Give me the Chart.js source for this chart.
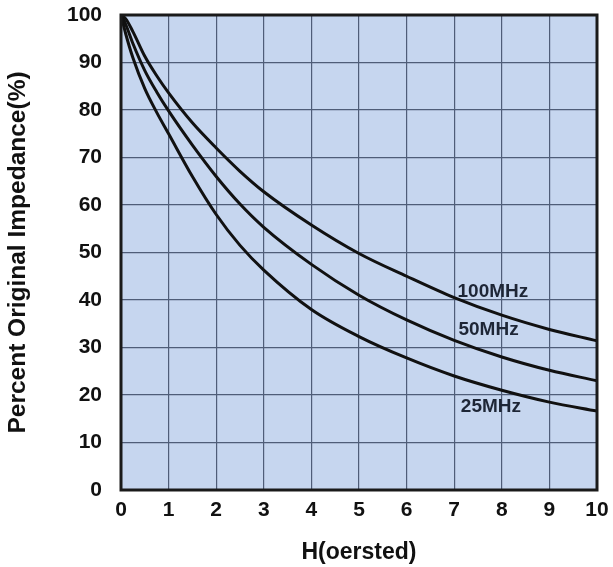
<!DOCTYPE html>
<html>
<head>
<meta charset="utf-8">
<script src="https://cdn.jsdelivr.net/npm/chart.js@4.4.1/dist/chart.umd.min.js"></script>
<style>
  html, body { margin: 0; padding: 0; background: #ffffff; }
  #wrap { width: 613px; height: 567px; }
</style>
</head>
<body>
<div id="wrap"><canvas id="c" width="613" height="567"></canvas></div>
<script>
// H (oersted) sample positions
const hValues = [0, 0.1, 0.25, 0.5, 0.75, 1, 1.5, 2, 2.5, 3, 4, 5, 6, 7, 8, 9, 10];
// Percent original impedance for each frequency
const imp100MHz = [100, 99.2, 96.5, 91.3, 87.2, 83.6, 77.3, 72, 67.1, 62.8, 55.8, 49.8, 45, 40.5, 36.8, 33.8, 31.4];
const imp50MHz  = [100, 98, 94, 88.3, 83.8, 79.8, 72.6, 66, 60.2, 55.3, 47.5, 41, 35.8, 31.5, 28, 25.2, 23];
const imp25MHz  = [100, 96, 91, 84.5, 79.5, 75, 66, 58, 51.5, 46.3, 38, 32.3, 27.8, 24, 21, 18.5, 16.6];
const seriesNames = ['100MHz', '50MHz', '25MHz'];
const xTicks = [0, 1, 2, 3, 4, 5, 6, 7, 8, 9, 10];
const yTicks = [0, 10, 20, 30, 40, 50, 60, 70, 80, 90, 100];

// curve label anchor (data coords)
const labelAnchors = [
  { x: 7.07, y: 41.7 },
  { x: 7.09, y: 33.7 },
  { x: 7.14, y: 17.5 }
];

const toPts = arr => hValues.map((h, i) => ({ x: h, y: arr[i] }));
const allSeries = [imp100MHz, imp50MHz, imp25MHz];

const FONT = '"Liberation Sans", Arial, Helvetica, sans-serif';

const bgPlugin = {
  id: 'bgPlugin',
  beforeDraw(chart) {
    const { ctx, chartArea: a } = chart;
    ctx.save();
    ctx.fillStyle = '#c6d6ef';
    ctx.fillRect(a.left, a.top, a.right - a.left, a.bottom - a.top);
    ctx.restore();
  },
  afterDatasetsDraw(chart) {
    const { ctx, chartArea: a, scales } = chart;
    ctx.save();
    ctx.strokeStyle = '#1a1a1a';
    ctx.lineWidth = 3;
    ctx.strokeRect(a.left, a.top, a.right - a.left, a.bottom - a.top);
    ctx.fillStyle = '#1e2636';
    ctx.font = 'bold 19px ' + FONT;
    ctx.textAlign = 'left';
    ctx.textBaseline = 'middle';
    seriesNames.forEach((n, i) => {
      const px = scales.x.getPixelForValue(labelAnchors[i].x);
      const py = scales.y.getPixelForValue(labelAnchors[i].y);
      ctx.fillText(n, px, py);
    });
    ctx.restore();
  }
};

new Chart(document.getElementById('c'), {
  type: 'line',
  data: {
    datasets: allSeries.map((s, i) => ({
      label: seriesNames[i],
      data: toPts(s),
      borderColor: '#111111',
      borderWidth: 3,
      pointRadius: 0,
      fill: false,
      cubicInterpolationMode: 'monotone'
    }))
  },
  options: {
    responsive: false,
    animation: false,
    devicePixelRatio: 1,
    layout: { padding: { left: 0, right: 16, top: 15, bottom: 0 } },
    plugins: { legend: { display: false }, tooltip: { enabled: false } },
    scales: {
      x: {
        type: 'linear',
        min: 0, max: 10,
        afterBuildTicks(scale) { scale.ticks = xTicks.map(v => ({ value: v })); },
        afterFit(scale) { scale.height = 77; scale.paddingLeft = 0; scale.paddingRight = 0; },
        grid: { color: '#4f5d78', lineWidth: 1.2, drawTicks: false },
        border: { display: false },
        ticks: {
          padding: 8,
          color: '#111111',
          font: { family: FONT, size: 21, weight: 'bold' }
        },
        title: {
          display: true,
          text: 'H(oersted)',
          color: '#111111',
          font: { family: FONT, size: 23, weight: 'bold' },
          padding: { top: 0, bottom: 1 }
        }
      },
      y: {
        type: 'linear',
        min: 0, max: 100,
        afterBuildTicks(scale) { scale.ticks = yTicks.map(v => ({ value: v })); },
        afterFit(scale) { scale.width = 121; scale.paddingTop = 0; scale.paddingBottom = 0; },
        grid: { color: '#4f5d78', lineWidth: 1.2, drawTicks: false },
        border: { display: false },
        ticks: {
          padding: 19,
          color: '#111111',
          font: { family: FONT, size: 21, weight: 'bold' }
        },
        title: {
          display: true,
          text: 'Percent Original Impedance(%)',
          color: '#111111',
          font: { family: FONT, size: 24.5, weight: 'bold' },
          padding: { top: 4, bottom: 0 }
        }
      }
    }
  },
  plugins: [bgPlugin]
});
</script>
</body>
</html>
